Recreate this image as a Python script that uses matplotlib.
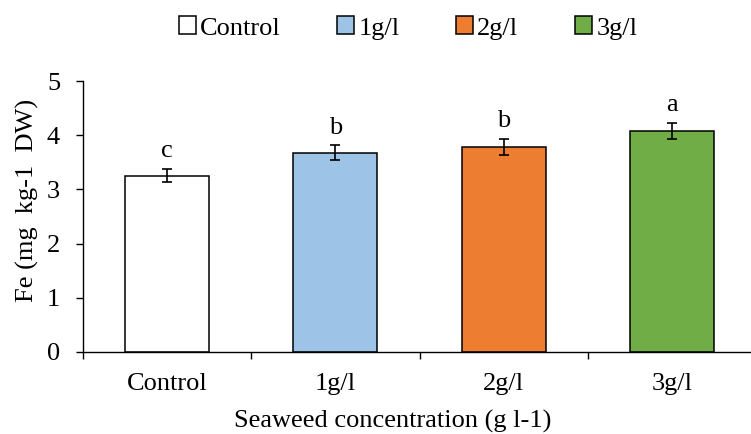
import matplotlib
matplotlib.use('Agg')
import matplotlib.pyplot as plt
from matplotlib.patches import Patch

# Datos: Fe por tratamiento
categorias = ['Control', '1g/l', '2g/l', '3g/l']
fe = [3.25, 3.68, 3.78, 4.08]
error = [0.12, 0.13, 0.145, 0.15]
letras = ['c', 'b', 'b', 'a']
colores = ['#FFFFFF', '#9DC3E6', '#ED7D31', '#70AD47']

plt.rcParams['font.family'] = ['Liberation Serif', 'DejaVu Serif']
plt.rcParams['font.size'] = 19

fig = plt.figure(figsize=(7.51, 4.34), dpi=100)
ax = fig.add_axes([83/751, 82/434, 673/751, 271/434])

x = range(len(categorias))
ax.bar(x, fe, width=0.5, color=colores, edgecolor='black', linewidth=1.1, zorder=2)
ax.errorbar(x, fe, yerr=error, fmt='none', ecolor='black', elinewidth=1.2,
            capsize=3.3, capthick=1.2, zorder=3)

# Letras de significancia encima de cada barra
for i in x:
    ax.annotate(letras[i], (i, fe[i] + error[i]), xytext=(0, 5),
                textcoords='offset points', ha='center', va='bottom')

ax.set_xlim(-0.5, 3.5)
ax.set_ylim(0, 5)
ax.set_yticks([0, 1, 2, 3, 4, 5])
ax.set_xticks(list(x))
ax.set_xticklabels(categorias)
ax.set_xticks([-0.5, 0.5, 1.5, 2.5, 3.5], minor=True)
ax.tick_params(axis='x', which='major', length=0, pad=15)
ax.tick_params(axis='x', which='minor', length=5, width=1, direction='out')
ax.tick_params(axis='y', length=5, width=1, direction='out', pad=11.5)

for lado in ['top', 'right']:
    ax.spines[lado].set_visible(False)
for lado in ['left', 'bottom']:
    ax.spines[lado].set_linewidth(1)

ax.set_ylabel('Fe (mg  kg-1  DW)')
ax.yaxis.set_label_coords(-0.066, 0.56)
ax.set_xlabel('Seaweed concentration (g l-1)')
ax.xaxis.set_label_coords(0.46, -0.215)

handles = [Patch(facecolor=c, edgecolor='black', linewidth=1.1) for c in colores]
fig.legend(handles, categorias, loc='center', bbox_to_anchor=(408/751, 1 - 28/434),
           ncol=4, frameon=False, handlelength=0.65, handleheight=0.65,
           handletextpad=0.15, columnspacing=2.15, borderaxespad=0)

fig.savefig('out.png', dpi=100)
